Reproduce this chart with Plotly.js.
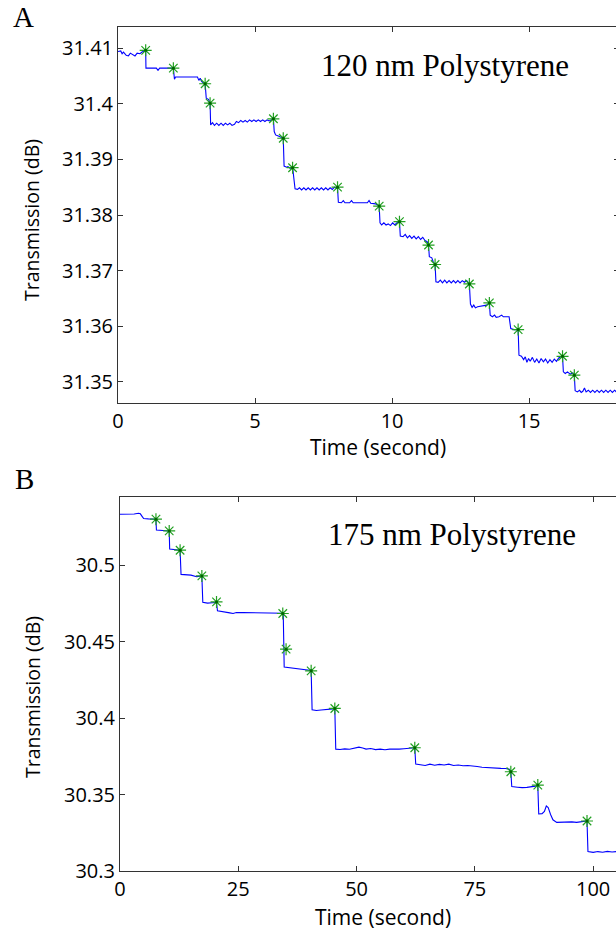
<!DOCTYPE html>
<html>
<head>
<meta charset="utf-8">
<script src="https://cdn.plot.ly/plotly-3.0.1.min.js"></script>
<style>
html,body{margin:0;padding:0;overflow:hidden;background:#fff;width:616px;height:930px;}
#chart{width:660px;height:930px;}
</style>
</head>
<body>
<div id="chart"></div>
<script>
// ---------- Panel A: 120 nm Polystyrene ----------
const timeA = [0.00,0.10,0.15,0.20,0.30,0.38,0.45,0.55,0.62,0.70,0.80,0.88,0.95,1.01,
1.02,1.40,1.46,1.52,2.00,2.02,2.06,2.10,2.90,2.95,3.00,3.05,3.15,3.18,3.22,3.30,3.36,3.38,
3.45,3.52,3.60,3.68,3.76,3.84,3.92,4.00,4.08,4.16,4.25,4.32,4.40,4.48,4.56,4.64,4.72,4.80,4.88,4.96,5.04,5.12,5.20,5.28,5.36,5.44,5.52,5.60,5.67,
5.70,5.75,5.85,5.95,6.03,6.06,6.15,6.20,6.28,6.37,6.42,6.46,6.55,6.62,6.70,6.78,6.86,6.94,7.02,7.10,7.18,7.26,7.34,7.42,7.50,7.58,7.66,7.74,7.82,7.90,7.96,8.01,
8.04,8.15,8.22,8.28,8.45,8.52,8.58,9.10,9.16,9.22,9.40,9.48,9.53,
9.56,9.62,9.70,9.78,9.86,9.94,10.02,10.10,10.18,10.24,10.27,
10.30,10.40,10.48,10.56,10.64,10.72,10.80,10.88,10.96,11.04,11.12,11.20,11.28,11.33,
11.36,11.45,11.50,11.57,11.60,11.68,11.76,11.84,11.92,12.00,12.08,12.16,12.24,12.32,12.40,12.48,12.56,12.64,12.72,12.82,
12.86,12.92,12.98,13.04,13.12,13.30,13.45,13.55,13.58,13.66,13.74,13.80,13.90,14.00,14.06,14.27,14.33,14.45,14.60,
14.63,14.72,14.80,14.86,14.92,14.98,15.04,15.12,15.20,15.28,15.36,15.44,15.52,15.60,15.68,15.76,15.84,15.92,16.00,16.08,16.16,16.22,
16.25,16.32,16.40,16.50,16.60,16.65,16.68,16.76,16.84,16.90,16.96,17.02,17.08,17.16,17.24,17.32,17.40,17.48,17.56,17.64,17.72,17.80,17.88,17.96,18.04,18.12,18.20,18.30];
const transA = [31.4094,31.4095,31.4090,31.4093,31.4087,31.4086,31.4091,31.4088,31.4086,31.4091,31.4090,31.4093,31.4094,31.4096,
31.4064,31.4064,31.4060,31.4064,31.4064,31.4064,31.4044,31.4048,31.4048,31.4042,31.4046,31.4040,31.4036,31.4036,31.4010,31.4008,31.4001,31.3962,
31.3966,31.3961,31.3965,31.3961,31.3965,31.3961,31.3965,31.3962,31.3965,31.3961,31.3963,31.3968,31.3966,31.3970,31.3967,31.3970,31.3967,31.3971,31.3968,31.3971,31.3968,31.3971,31.3968,31.3971,31.3968,31.3971,31.3969,31.3972,31.3973,
31.3950,31.3944,31.3942,31.3940,31.3938,31.3888,31.3886,31.3887,31.3884,31.3886,31.3860,31.3847,31.3846,31.3849,31.3845,31.3849,31.3845,31.3849,31.3845,31.3849,31.3845,31.3849,31.3845,31.3849,31.3845,31.3849,31.3845,31.3849,31.3846,31.3850,31.3848,31.3850,
31.3823,31.3822,31.3826,31.3822,31.3822,31.3826,31.3822,31.3822,31.3826,31.3821,31.3820,31.3818,31.3816,
31.3786,31.3782,31.3786,31.3782,31.3784,31.3781,31.3786,31.3782,31.3786,31.3787,31.3788,
31.3762,31.3761,31.3765,31.3759,31.3763,31.3758,31.3762,31.3757,31.3761,31.3756,31.3760,31.3754,31.3752,31.3746,
31.3725,31.3723,31.3716,31.3711,31.3680,31.3679,31.3683,31.3678,31.3683,31.3678,31.3682,31.3678,31.3682,31.3678,31.3682,31.3678,31.3682,31.3679,31.3682,31.3676,
31.3640,31.3634,31.3638,31.3633,31.3635,31.3636,31.3638,31.3642,31.3620,31.3617,31.3620,31.3616,31.3617,31.3620,31.3617,31.3617,31.3596,31.3594,31.3594,
31.3548,31.3546,31.3540,31.3545,31.3535,31.3542,31.3537,31.3544,31.3535,31.3541,31.3534,31.3542,31.3536,31.3541,31.3534,31.3540,31.3535,31.3541,31.3537,31.3543,31.3545,31.3546,
31.3518,31.3515,31.3518,31.3514,31.3516,31.3512,31.3484,31.3482,31.3485,31.3481,31.3483,31.3489,31.3482,31.3485,31.3481,31.3485,31.3481,31.3485,31.3481,31.3485,31.3481,31.3485,31.3481,31.3485,31.3481,31.3485,31.3481,31.3484];
const stepTimeA = [1.01,2.02,3.18,3.36,5.67,6.03,6.37,8.01,9.53,10.27,11.33,11.57,12.82,13.55,14.60,16.22,16.65];
const stepTransA = [31.4096,31.4064,31.4036,31.4001,31.3973,31.3938,31.3885,31.3850,31.3816,31.3788,31.3746,31.3711,31.3676,31.3642,31.3594,31.3546,31.3512];
const xTicksA = [0,5,10,15];
const yTicksA = [31.35,31.36,31.37,31.38,31.39,31.40,31.41];
const yTickTextA = ["31.35","31.36","31.37","31.38","31.39","31.4","31.41"];

// ---------- Panel B: 175 nm Polystyrene ----------
const timeB = [0,1,2,3,3.9,4.3,4.7,5.0,6.0,7.0,7.6,7.7,8.5,9.2,9.8,10.4,10.5,11.5,12.2,12.7,12.9,14.0,15.0,16.2,16.8,17.3,
17.5,18.5,19.5,20.4,20.6,21.5,22.5,23.2,23.9,24.6,26,28,30,32,34.4,34.5,34.7,36,37.5,39,40.0,40.4,
40.6,41.5,42.5,43.5,44.5,45.0,45.4,45.6,46.5,47.5,48.5,49.5,50.5,51.3,52.0,53,54,55,56,57,58,59,60,61,62.3,
62.5,63.5,64.5,65.5,66.5,67.5,68.5,69.5,70.5,71.5,72.5,73.5,74.5,75.5,76.5,77.5,78.5,79.5,80.5,81.5,82.3,82.6,
82.8,84,85,86,87,87.8,88.3,88.5,89.2,89.7,90.1,90.5,91.0,91.5,92.3,93.5,94.5,95.5,96.5,97.5,98.3,98.7,
98.9,100,101,102,103,104,105,106,107,108,110];
const transB = [30.5333,30.5334,30.5332,30.5335,30.5340,30.5336,30.5318,30.5305,30.5303,30.5302,30.5301,30.5230,30.5228,30.5231,30.5227,30.5224,30.5106,30.5103,30.5100,30.5098,30.4940,30.4938,30.4935,30.4925,30.4928,30.4930,
30.4758,30.4752,30.4754,30.4756,30.4702,30.4698,30.4696,30.4688,30.4684,30.4690,30.4690,30.4689,30.4690,30.4689,30.4687,30.4686,30.4334,30.4330,30.4325,30.4320,30.4315,30.4312,
30.4055,30.4050,30.4053,30.4054,30.4057,30.4060,30.4063,30.3797,30.3795,30.3799,30.3796,30.3804,30.3810,30.3805,30.3797,30.3801,30.3794,30.3797,30.3793,30.3797,30.3795,30.3797,30.3800,30.3803,30.3806,
30.3700,30.3694,30.3690,30.3699,30.3692,30.3697,30.3693,30.3699,30.3690,30.3693,30.3688,30.3690,30.3684,30.3683,30.3679,30.3676,30.3675,30.3673,30.3671,30.3670,30.3665,30.3650,
30.3552,30.3548,30.3545,30.3547,30.3549,30.3555,30.3560,30.3373,30.3375,30.3390,30.3425,30.3415,30.3370,30.3335,30.3318,30.3320,30.3318,30.3321,30.3318,30.3322,30.3324,30.3327,
30.3128,30.3122,30.3127,30.3123,30.3128,30.3124,30.3127,30.3124,30.3127,30.3124,30.3126];
const stepTimeB = [7.6,10.4,12.7,17.3,20.4,34.4,35.1,40.4,45.4,62.3,82.6,88.3,98.7];
const stepTransB = [30.5301,30.5224,30.5098,30.4930,30.4760,30.4684,30.4451,30.4309,30.4063,30.3806,30.3649,30.3562,30.3327];
const xTicksB = [0,25,50,75,100];
const yTicksB = [30.30,30.35,30.40,30.45,30.50];
const yTickTextB = ["30.3","30.35","30.4","30.45","30.5"];

const panelLabels = ["A","B"];
const sampleLabels = ["120 nm Polystyrene","175 nm Polystyrene"];
const xTitle = "Time (second)";
const yTitle = "Transmission (dB)";

// ---------- layout geometry (pixels) ----------
const W = 660, H = 930;
const px = v => v / W;
const py = v => 1 - v / H;

const tickFont = {family: "Open Sans, sans-serif", size: 20, color: "#000"};
const xTitleFont = {family: "Open Sans, sans-serif", size: 21, color: "#000"};
const yTitleFont = {family: "Open Sans, sans-serif", size: 19.5, color: "#000"};
const serif = "Liberation Serif, Times New Roman, serif";

function axisCommon(extra) {
  return Object.assign({
    showline: true, mirror: "ticks", linecolor: "#333", linewidth: 1,
    ticks: "inside", ticklen: 5, tickwidth: 1, tickcolor: "#333",
    showgrid: false, zeroline: false, tickfont: tickFont, fixedrange: true
  }, extra);
}

const lineStyle = {color: "#0000ff", width: 1.1};
const starStyle = {symbol: "asterisk-open", size: 10, color: "#22a022", line: {color: "#22a022", width: 1.2}};
const dotStyle = {symbol: "circle", size: 3, color: "#006400", line: {width: 0}};

const traces = [
  {x: timeA, y: transA, type: "scatter", mode: "lines", line: lineStyle, xaxis: "x", yaxis: "y"},
  {x: stepTimeA, y: stepTransA, type: "scatter", mode: "markers", marker: starStyle, xaxis: "x", yaxis: "y"},
  {x: stepTimeA, y: stepTransA, type: "scatter", mode: "markers", marker: dotStyle, xaxis: "x", yaxis: "y"},
  {x: timeB, y: transB, type: "scatter", mode: "lines", line: lineStyle, xaxis: "x2", yaxis: "y2"},
  {x: stepTimeB, y: stepTransB, type: "scatter", mode: "markers", marker: starStyle, xaxis: "x2", yaxis: "y2"},
  {x: stepTimeB, y: stepTransB, type: "scatter", mode: "markers", marker: dotStyle, xaxis: "x2", yaxis: "y2"}
];

function label(text, x, y, font, extra) {
  return Object.assign({text: text, xref: "paper", yref: "paper", x: px(x), y: py(y),
    xanchor: "center", yanchor: "middle", showarrow: false, font: font}, extra || {});
}

const layout = {
  width: W, height: H,
  margin: {l: 0, r: 0, t: 0, b: 0},
  paper_bgcolor: "#fff", plot_bgcolor: "#fff",
  showlegend: false,
  xaxis: axisCommon({domain: [px(118), px(619)], range: [0, 18.28], tickvals: xTicksA, anchor: "y"}),
  yaxis: axisCommon({domain: [py(403), py(27)], range: [31.3462, 31.4138], tickvals: yTicksA, ticktext: yTickTextA, anchor: "x"}),
  xaxis2: axisCommon({domain: [px(120), px(640)], range: [0, 109.9], tickvals: xTicksB, anchor: "y2"}),
  yaxis2: axisCommon({domain: [py(871), py(497)], range: [30.3, 30.5446], tickvals: yTicksB, ticktext: yTickTextB, anchor: "x2"}),
  annotations: [
    label(panelLabels[0], 23, 17, {family: serif, size: 29, color: "#000"}),
    label(panelLabels[1], 24.5, 479, {family: serif, size: 29, color: "#000"}),
    label(sampleLabels[0], 444.5, 66, {family: serif, size: 31, color: "#000"}),
    label(sampleLabels[1], 451.5, 534, {family: serif, size: 31, color: "#000"}),
    label(xTitle, 378, 447, xTitleFont),
    label(xTitle, 383, 917, xTitleFont),
    label(yTitle, 31, 220, yTitleFont, {textangle: -90}),
    label(yTitle, 32, 697, yTitleFont, {textangle: -90})
  ]
};

Plotly.newPlot("chart", traces, layout, {staticPlot: true, displayModeBar: false});
</script>
</body>
</html>
